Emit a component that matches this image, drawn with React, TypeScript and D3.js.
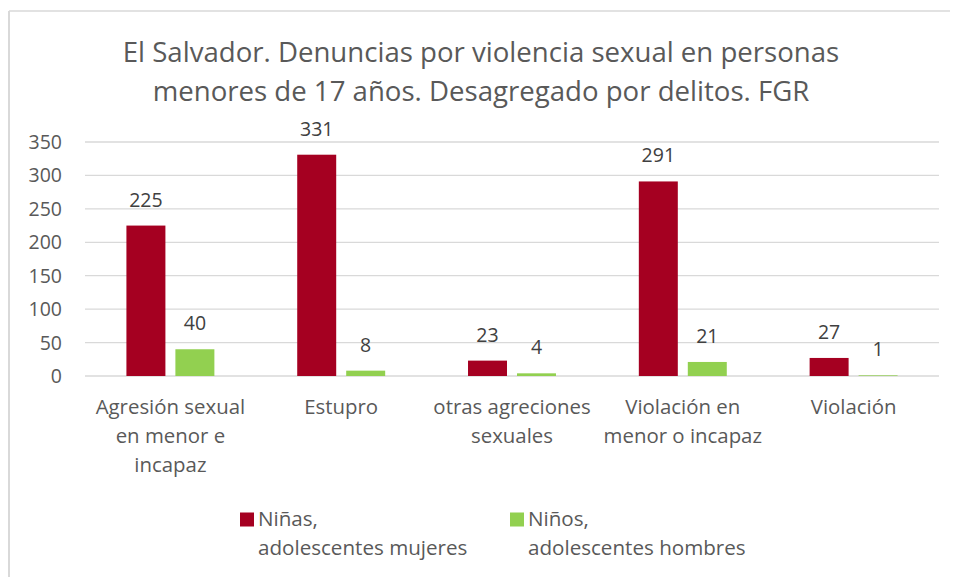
import React from "react";
import * as d3 from "d3";

// data
const categories = [
  "Agresión sexual en menor e incapaz",
  "Estupro",
  "otras agreciones sexuales",
  "Violación en menor o incapaz",
  "Violación",
];
// how each category label wraps under the axis
const categoryLines = [
  ["Agresión sexual", "en menor e", "incapaz"],
  ["Estupro"],
  ["otras agreciones", "sexuales"],
  ["Violación en", "menor o incapaz"],
  ["Violación"],
];
const series = ["Niñas, adolescentes mujeres", "Niños, adolescentes hombres"];
const seriesLines = [
  ["Niñas,", "adolescentes mujeres"],
  ["Niños,", "adolescentes hombres"],
];
const ninas = [225, 331, 23, 291, 27];
const ninos = [40, 8, 4, 21, 1];
const yTicks = [0, 50, 100, 150, 200, 250, 300, 350];
const colors = ["#a50021", "#92d050"];

const titleLines = [
  "El Salvador. Denuncias por violencia sexual en personas",
  "menores de 17 años. Desagregado por delitos. FGR",
];

const W = 956;
const H = 577;
const font = "'Open Sans', sans-serif";

const App = () => {
  const values = [ninas, ninos];

  const x0 = d3
    .scaleBand()
    .domain(categories)
    .range([85, 939])
    .paddingInner(0.485)
    .paddingOuter(0.2425);

  const x1 = d3
    .scaleBand()
    .domain(series)
    .range([0, x0.bandwidth()])
    .paddingInner(0.204);

  const y = d3.scaleLinear().domain([0, 350]).range([376, 142]);

  return (
    <svg
      width={W}
      height={H}
      style={{ position: "absolute", left: 0, top: 0, background: "#fff" }}
      fontFamily={font}
    >
      <rect width={W} height={H} fill="#fff" />
      {/* chart frame */}
      <line x1={9} x2={950} y1={11} y2={11} stroke="#d9d9d9" strokeWidth={1.5} />
      <line x1={9} x2={9} y1={11} y2={H} stroke="#d9d9d9" strokeWidth={2} />

      {titleLines.map((t, i) => (
        <text
          key={t}
          x={481}
          y={62 + i * 39}
          textAnchor="middle"
          fontSize={27.6}
          fill="#595959"
        >
          {t}
        </text>
      ))}

      {/* grid + y labels */}
      {yTicks.map((t) => (
        <g key={t}>
          <line
            x1={85}
            x2={939}
            y1={y(t)}
            y2={y(t)}
            stroke="#d9d9d9"
            strokeWidth={1.3}
          />
          <text
            x={62}
            y={y(t)}
            dy="0.36em"
            textAnchor="end"
            fontSize={19.5}
            fill="#595959"
          >
            {t}
          </text>
        </g>
      ))}

      {/* bars */}
      {categories.map((c, ci) => (
        <g key={c} transform={`translate(${x0(c)},0)`}>
          {series.map((s, si) => {
            const v = values[si][ci];
            return (
              <g key={s}>
                <rect
                  x={x1(s)}
                  y={y(v)}
                  width={x1.bandwidth()}
                  height={y(0) - y(v)}
                  fill={colors[si]}
                />
                <text
                  x={(x1(s) || 0) + x1.bandwidth() / 2}
                  y={y(v) - 19}
                  textAnchor="middle"
                  fontSize={19.5}
                  fill="#404040"
                >
                  {v}
                </text>
              </g>
            );
          })}
        </g>
      ))}

      {/* x labels */}
      {categories.map((c, ci) => (
        <text
          key={c}
          x={(x0(c) || 0) + x0.bandwidth() / 2}
          y={414}
          textAnchor="middle"
          fontSize={20.4}
          fill="#595959"
        >
          {categoryLines[ci].map((l, li) => (
            <tspan key={l} x={(x0(c) || 0) + x0.bandwidth() / 2} dy={li === 0 ? 0 : 29}>
              {l}
            </tspan>
          ))}
        </text>
      ))}

      {/* legend */}
      {series.map((s, si) => {
        const lx = 240 + si * 270;
        return (
          <g key={s}>
            <rect x={lx} y={512.5} width={14} height={14} fill={colors[si]} />
            <text x={lx + 18} y={526} fontSize={20.6} fill="#595959">
              {seriesLines[si].map((l, li) => (
                <tspan key={l} x={lx + 18} dy={li === 0 ? 0 : 29}>
                  {l}
                </tspan>
              ))}
            </text>
          </g>
        );
      })}
    </svg>
  );
};

export default App;
